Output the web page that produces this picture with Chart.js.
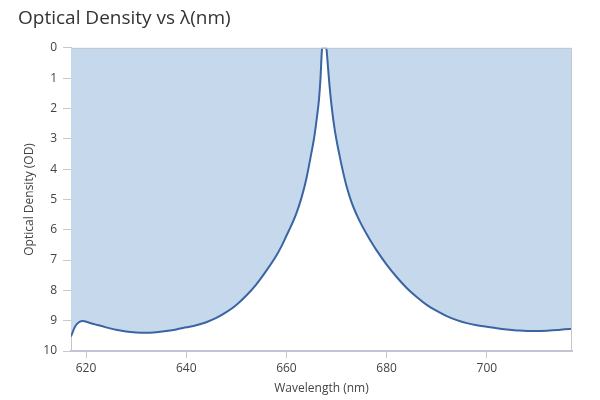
<!DOCTYPE html>
<html>
<head>
<meta charset="utf-8">
<script src="https://cdn.jsdelivr.net/npm/chart.js@4.4.1/dist/chart.umd.min.js"></script>
<style>
  html, body { margin: 0; padding: 0; background: #fff; }
  #wrap { width: 600px; height: 400px; }
</style>
</head>
<body>
<div id="wrap"><canvas id="c" width="600" height="400"></canvas></div>
<script>
const wavelengths = [
  617.0, 617.4, 617.8, 618.3, 618.8, 619.2, 619.7, 620.5, 622, 624,
  626, 628, 630, 632, 634, 636, 638, 640, 642, 644,
  646, 648, 650, 652, 654, 656, 658, 659, 660, 661,
  662, 663, 664, 665, 665.5, 666, 666.5, 666.8, 667.1, 667.2,
  667.9, 668.0, 668.3, 668.6, 669, 669.5, 670, 670.5, 671, 672,
  673, 674, 675, 676, 677, 678, 680, 682, 684, 686,
  688, 690, 692, 694, 696, 698, 700, 702, 704, 706,
  708, 710, 712, 714, 715.5, 717
];
const opticalDensity = [
  9.52, 9.35, 9.20, 9.09, 9.03, 9.01, 9.02, 9.06, 9.13, 9.22,
  9.30, 9.36, 9.39, 9.40, 9.38, 9.34, 9.29, 9.22, 9.15, 9.05,
  8.91, 8.72, 8.48, 8.17, 7.80, 7.35, 6.85, 6.55, 6.20, 5.85,
  5.45, 4.95, 4.30, 3.45, 3.00, 2.40, 1.70, 1.00, 0.05, 0.00,
  0.00, 0.05, 0.65, 1.25, 1.90, 2.55, 3.05, 3.47, 3.87, 4.57,
  5.10, 5.50, 5.84, 6.14, 6.42, 6.68, 7.15, 7.56, 7.92, 8.22,
  8.48, 8.68, 8.85, 8.98, 9.08, 9.15, 9.20, 9.25, 9.29, 9.32,
  9.34, 9.34, 9.33, 9.31, 9.28, 9.27
];
const xTickValues = [620, 640, 660, 680, 700];
const yTickValues = [0, 1, 2, 3, 4, 5, 6, 7, 8, 9, 10];

const points = wavelengths.map((w, i) => ({ x: w, y: opticalDensity[i] }));

const frame = {
  id: 'frame',
  afterDatasetsDraw(chart) {
    const a = chart.chartArea, ctx = chart.ctx;
    ctx.save();
    ctx.strokeStyle = '#c4c6d0';
    ctx.lineWidth = 1;
    ctx.beginPath();
    ctx.moveTo(a.left, a.top + 0.5);
    ctx.lineTo(a.right - 0.5, a.top + 0.5);
    ctx.lineTo(a.right - 0.5, a.bottom);
    ctx.stroke();
    ctx.restore();
  }
};

new Chart(document.getElementById('c'), {
  type: 'line',
  data: {
    datasets: [{
      data: points,
      borderColor: '#3a64a2',
      backgroundColor: '#c6d8eb',
      borderWidth: 2,
      pointRadius: 0,
      fill: { value: 0 },
      cubicInterpolationMode: 'monotone'
    }]
  },
  options: {
    responsive: false,
    animation: false,
    devicePixelRatio: 1,
    layout: { padding: { left: 18, right: 28, top: 0, bottom: 0 } },
    plugins: {
      legend: { display: false },
      tooltip: { enabled: false },
      title: {
        display: true,
        text: 'Optical Density vs λ(nm)',
        align: 'start',
        color: '#333',
        font: { family: 'Open Sans', size: 19, weight: 'normal' },
        padding: { top: 7, bottom: 18 }
      }
    },
    scales: {
      x: {
        type: 'linear',
        min: 617,
        max: 717,
        afterBuildTicks: s => { s.ticks = xTickValues.map(v => ({ value: v })); },
        afterFit: s => { s.height = 49; },
        grid: { drawOnChartArea: false, color: '#c8c8d0', tickLength: 7 },
        border: { color: '#c0c4d6', width: 2 },
        ticks: { color: '#444', font: { family: 'Open Sans', size: 12 }, padding: 3, maxRotation: 0 },
        title: { display: true, text: 'Wavelength (nm)', color: '#444', font: { family: 'Open Sans', size: 12 }, padding: { top: 2 } }
      },
      y: {
        min: 0,
        max: 10,
        reverse: true,
        afterBuildTicks: s => { s.ticks = yTickValues.map(v => ({ value: v })); },
        afterFit: s => { s.width = 53; },
        grid: { drawOnChartArea: false, color: '#c8c8d0', tickLength: 8 },
        border: { color: '#c4c6d0', width: 1 },
        ticks: { color: '#444', font: { family: 'Open Sans', size: 12 }, padding: 6 },
        title: { display: true, text: 'Optical Density (OD)', color: '#444', font: { family: 'Open Sans', size: 12 }, padding: { bottom: 2 } }
      }
    }
  },
  plugins: [frame]
});
</script>
</body>
</html>
